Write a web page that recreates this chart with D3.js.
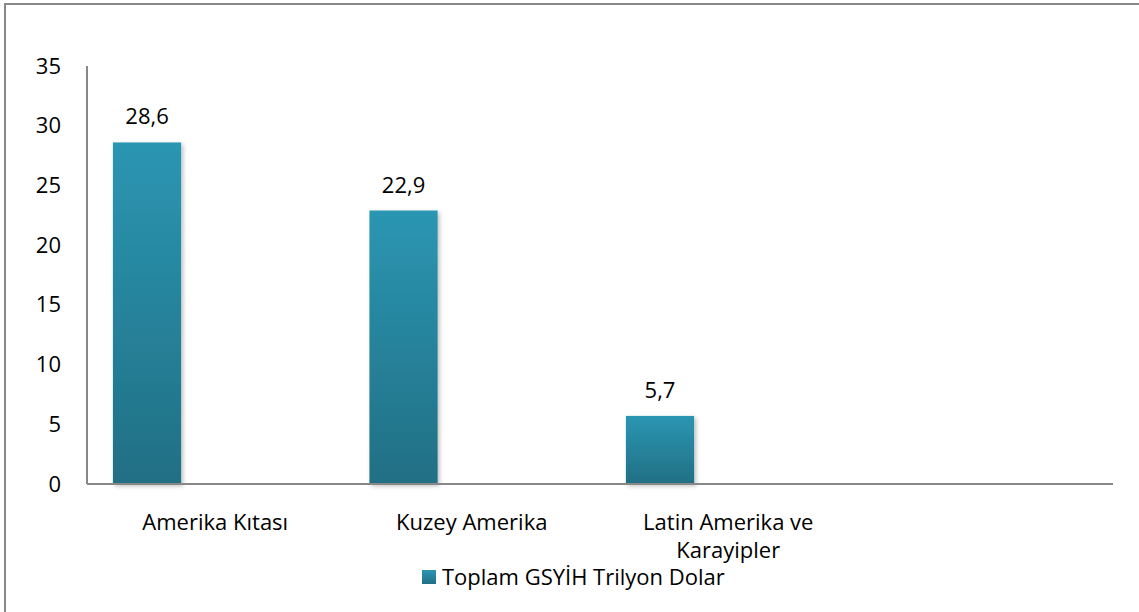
<!DOCTYPE html>
<html>
<head>
<meta charset="utf-8">
<script src="https://cdn.jsdelivr.net/npm/d3@7"></script>
<style>
  body { margin: 0; background: #fff; }
  text { font-family: "Open Sans", Lato, sans-serif; fill: #000; }
</style>
</head>
<body>
<div id="chart"></div>
<script>
// chart data
var categories = ["Amerika Kıtası", "Kuzey Amerika", "Latin Amerika ve Karayipler", ""];
var values = [28.6, 22.9, 5.7, null];
var seriesName = "Toplam GSYİH Trilyon Dolar";
var yTicks = [0, 5, 10, 15, 20, 25, 30, 35];

var width = 1139, height = 612;
var margin = {top: 66, left: 87, right: 26, bottom: 128};
var fontSize = "22px";

var svg = d3.select("#chart").append("svg")
    .attr("width", width)
    .attr("height", height);

var defs = svg.append("defs");
var grad = defs.append("linearGradient")
    .attr("id", "barGrad")
    .attr("x1", 0).attr("y1", 0).attr("x2", 0).attr("y2", 1);
grad.append("stop").attr("offset", "0%").attr("stop-color", "#2b96b2");
grad.append("stop").attr("offset", "100%").attr("stop-color", "#216f84");

var shadow = defs.append("filter").attr("id", "shadow")
    .attr("x", "-20%").attr("y", "-5%").attr("width", "150%").attr("height", "115%");
shadow.append("feDropShadow")
    .attr("dx", 2).attr("dy", 2).attr("stdDeviation", 2)
    .attr("flood-color", "#000").attr("flood-opacity", 0.25);

// outer frame, cut off at right and bottom like the source
svg.append("path")
    .attr("d", "M5,620 L5,4 L1145,4")
    .attr("fill", "none")
    .attr("stroke", "#888")
    .attr("stroke-width", 2);

var plotW = width - margin.left - margin.right;
var plotH = height - margin.top - margin.bottom;

var g = svg.append("g")
    .attr("transform", "translate(" + margin.left + "," + margin.top + ")");

var x0 = d3.scaleBand()
    .domain(d3.range(categories.length))
    .range([0, plotW]);

// three series slots per category, only the first one is used
var x1 = d3.scaleBand()
    .domain([0, 1, 2])
    .range([0, x0.bandwidth()])
    .paddingOuter(0.38)
    .paddingInner(0);

var y = d3.scaleLinear()
    .domain([0, 35])
    .range([plotH, 0]);

// y axis labels
var yAxis = d3.axisLeft(y).tickValues(yTicks).tickSize(0).tickPadding(26);
var yg = g.append("g").call(yAxis);
yg.select(".domain").remove();
yg.selectAll("text")
    .style("font-family", "'Open Sans', Lato, sans-serif")
    .style("font-size", fontSize)
    .attr("fill", "#000");

// bars
var bars = values.map(function(v, i) { return {i: i, v: v}; })
    .filter(function(d) { return d.v != null; });

g.selectAll(".bar")
    .data(bars)
    .enter()
    .append("rect")
    .attr("class", "bar")
    .attr("x", function(d) { return x0(d.i) + x1(0); })
    .attr("width", x1.bandwidth())
    .attr("y", function(d) { return y(d.v); })
    .attr("height", function(d) { return plotH - y(d.v); })
    .attr("fill", "url(#barGrad)")
    .attr("filter", "url(#shadow)");

g.selectAll(".val")
    .data(bars)
    .enter()
    .append("text")
    .attr("class", "val")
    .attr("x", function(d) { return x0(d.i) + x1(0) + x1.bandwidth() / 2; })
    .attr("y", function(d) { return y(d.v) - 18; })
    .attr("text-anchor", "middle")
    .style("font-size", fontSize)
    .text(function(d) { return d3.format(".1f")(d.v).replace(".", ","); });

// axis lines
g.append("line")
    .attr("x1", 0).attr("x2", 0)
    .attr("y1", 0).attr("y2", plotH)
    .attr("stroke", "#888").attr("stroke-width", 2);
g.append("line")
    .attr("x1", 0).attr("x2", plotW)
    .attr("y1", plotH).attr("y2", plotH)
    .attr("stroke", "#888").attr("stroke-width", 2);

// category labels, wrapped like the source
var wrapped = {"Latin Amerika ve Karayipler": ["Latin Amerika ve", "Karayipler"]};
var cats = g.selectAll(".cat")
    .data(categories)
    .enter()
    .append("text")
    .attr("class", "cat")
    .attr("text-anchor", "middle")
    .attr("transform", function(d, i) {
      return "translate(" + (x0(i) + x0.bandwidth() / 2) + "," + (plotH + 46) + ")";
    })
    .style("font-size", fontSize);
cats.each(function(d) {
  var lines = wrapped[d] || [d];
  var t = d3.select(this);
  lines.forEach(function(l, k) {
    t.append("tspan").attr("x", 0).attr("dy", k === 0 ? 0 : 28).text(l);
  });
});

// legend
var leg = svg.append("g").attr("transform", "translate(422,570)");
leg.append("rect")
    .attr("width", 14).attr("height", 14)
    .attr("fill", "url(#barGrad)");
leg.append("text")
    .attr("x", 20).attr("y", 15)
    .style("font-size", fontSize)
    .text(seriesName);
</script>
</body>
</html>
